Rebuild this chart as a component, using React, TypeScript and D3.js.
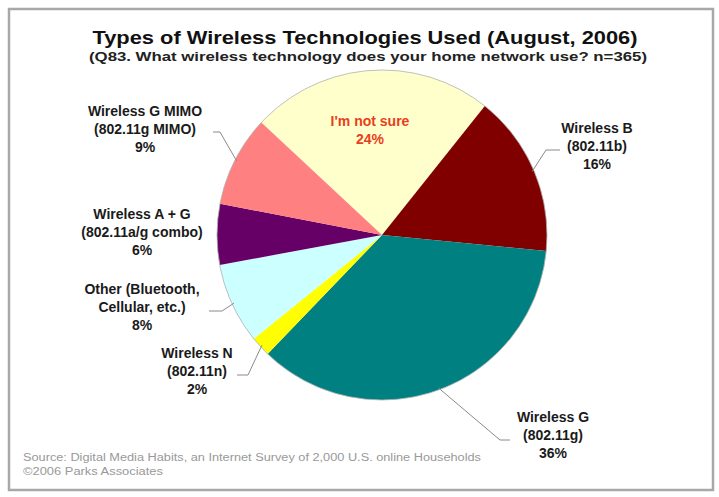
import React from "react";
import * as d3 from "d3";

const categories = [
  "I'm not sure",
  "Wireless B",
  "Wireless G",
  "Wireless N",
  "Other",
  "Wireless A + G",
  "Wireless G MIMO",
];
const values = [24, 16, 36, 2, 8, 6, 9];
const labelTexts = [
  ["I'm not sure", "24%"],
  ["Wireless B", "(802.11b)", "16%"],
  ["Wireless G", "(802.11g)", "36%"],
  ["Wireless N", "(802.11n)", "2%"],
  ["Other (Bluetooth,", "Cellular, etc.)", "8%"],
  ["Wireless A + G", "(802.11a/g combo)", "6%"],
  ["Wireless G MIMO", "(802.11g MIMO)", "9%"],
];
const colors = ["#FFFFCC", "#800000", "#008080", "#FFFF00", "#CCFFFF", "#660066", "#FF8080"];

const title = "Types of Wireless Technologies Used (August, 2006)";
const subtitle = "(Q83. What wireless technology does your home network use? n=365)";
const source1 = "Source: Digital Media Habits, an Internet Survey of 2,000 U.S. online Households";
const source2 = "\u00A92006 Parks Associates";

// layout: label anchor (center x, first line y) and leader elbow
const labelLayout = [
  { x: 370, y: 126, inside: true },
  { x: 597, y: 133, elbow: [560, 150, 546, 150] },
  { x: 553, y: 422, elbow: [510, 440, 500, 440] },
  { x: 197, y: 358, elbow: [237, 375, 248, 375] },
  { x: 142, y: 294, elbow: [209, 311, 222, 311] },
  { x: 142, y: 219 },
  { x: 145, y: 116, elbow: [213, 132, 220, 132] },
];

export default function App() {
  const W = 719;
  const H = 497;
  const cx = 382;
  const cy = 235;
  const r = 165;
  const start = (-47 * Math.PI) / 180;

  const pie = d3
    .pie<number>()
    .sort(null)
    .value((d) => d)
    .startAngle(start)
    .endAngle(start + 2 * Math.PI);
  const arcs = pie(values);
  const arcGen = d3.arc<d3.PieArcDatum<number>>().innerRadius(0).outerRadius(r);

  const lineH = 18;

  return (
    <svg
      width={W}
      height={H}
      style={{ position: "absolute", left: 0, top: 0, background: "#fff" }}
      fontFamily="'Liberation Sans', Arial, sans-serif"
    >
      <rect x={0} y={0} width={W} height={H} fill="#fff" />
      <rect x={9} y={9} width={704} height={481} fill="none" stroke="#a8a8a8" strokeWidth={2.5} />
      <text
        x={365}
        y={44}
        textAnchor="middle"
        fontSize={19}
        fontWeight="bold"
        fill="#111"
        textLength={545}
        lengthAdjust="spacingAndGlyphs"
      >
        {title}
      </text>
      <text
        x={368}
        y={61}
        textAnchor="middle"
        fontSize={12}
        fontWeight="bold"
        fill="#222"
        textLength={558}
        lengthAdjust="spacingAndGlyphs"
      >
        {subtitle}
      </text>

      <g transform={`translate(${cx},${cy})`}>
        {arcs.map((a, i) => (
          <path key={categories[i]} d={arcGen(a) || ""} fill={colors[i]} stroke="none" />
        ))}
        <circle r={r} fill="none" stroke="#b0b0b0" strokeWidth={0.8} />
      </g>

      {arcs.map((a, i) => {
        const L = labelLayout[i];
        if (!L.elbow) return null;
        const mid = (a.startAngle + a.endAngle) / 2;
        const px = cx + Math.sin(mid) * (r - 2);
        const py = cy - Math.cos(mid) * (r - 2);
        const [x1, y1, x2, y2] = L.elbow;
        return (
          <polyline
            key={"l" + i}
            points={`${x1},${y1} ${x2},${y2} ${px},${py}`}
            fill="none"
            stroke="#8a8a8a"
            strokeWidth={1}
          />
        );
      })}

      {labelTexts.map((lines, i) => {
        const L = labelLayout[i];
        return (
          <text
            key={"t" + i}
            textAnchor="middle"
            fontSize={14}
            fontWeight="bold"
            fill={L.inside ? "#E8401C" : "#1a1a1a"}
          >
            {lines.map((ln, j) => (
              <tspan key={j} x={L.x} y={L.y + j * lineH}>
                {ln}
              </tspan>
            ))}
          </text>
        );
      })}

      <text x={23} y={461} fontSize={10} fill="#999" textLength={458} lengthAdjust="spacingAndGlyphs">
        {source1}
      </text>
      <text x={23} y={475} fontSize={10} fill="#999" textLength={140} lengthAdjust="spacingAndGlyphs">
        {source2}
      </text>
    </svg>
  );
}
